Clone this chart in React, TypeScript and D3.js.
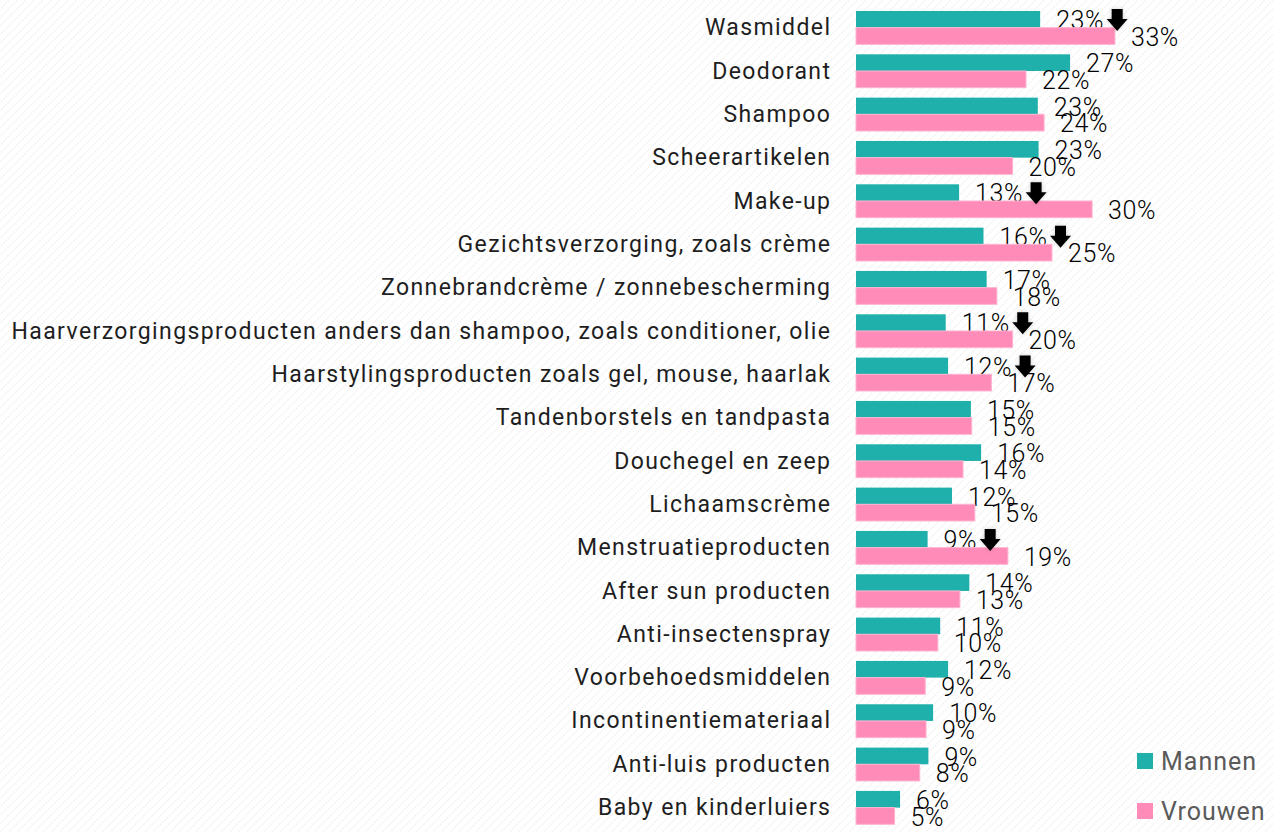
import React from "react";
import * as d3 from "d3";

const categories = [
  "Wasmiddel",
  "Deodorant",
  "Shampoo",
  "Scheerartikelen",
  "Make-up",
  "Gezichtsverzorging, zoals crème",
  "Zonnebrandcrème / zonnebescherming",
  "Haarverzorgingsproducten anders dan shampoo, zoals conditioner, olie",
  "Haarstylingsproducten zoals gel, mouse, haarlak",
  "Tandenborstels en tandpasta",
  "Douchegel en zeep",
  "Lichaamscrème",
  "Menstruatieproducten",
  "After sun producten",
  "Anti-insectenspray",
  "Voorbehoedsmiddelen",
  "Incontinentiemateriaal",
  "Anti-luis producten",
  "Baby en kinderluiers",
];
const mannen = [23.4, 27.2, 23.1, 23.2, 13.1, 16.2, 16.6, 11.4, 11.7, 14.6, 15.9, 12.2, 9.1, 14.4, 10.7, 11.7, 9.8, 9.2, 5.6];
const vrouwen = [32.9, 21.6, 23.9, 19.9, 30.0, 24.9, 17.9, 19.9, 17.2, 14.7, 13.6, 15.1, 19.3, 13.2, 10.4, 8.8, 8.9, 8.1, 4.9];
const arrowFlags = [1, 0, 0, 0, 1, 1, 0, 1, 1, 0, 0, 0, 1, 0, 0, 0, 0, 0, 0];
const seriesNames = ["Mannen", "Vrouwen"];
const seriesColors = ["#1fb0ab", "#ff8cb8"];

const W = 1273;
const H = 832;
const FONT = "Roboto, 'Open Sans', sans-serif";

let _ctx: CanvasRenderingContext2D | null = null;
function measure(text: string, font: string, spacing: number) {
  if (!_ctx) _ctx = document.createElement("canvas").getContext("2d");
  if (!_ctx) return text.length * 15;
  _ctx.font = font;
  return _ctx.measureText(text).width + spacing * text.length;
}

export default function App() {
  const x = d3.scaleLinear().domain([0, 100]).range([856, 856 + 787]);
  const y = d3
    .scaleBand<string>()
    .domain(categories)
    .range([6, 6 + 19 * 43.33])
    .paddingInner(0.23)
    .paddingOuter(0.115);
  const ySub = d3.scaleBand<string>().domain(seriesNames).range([0, y.bandwidth()]);
  const values = [mannen, vrouwen];
  const labelFont = "300 25px Roboto";

  return (
    <svg
      width={W}
      height={H}
      style={{ position: "absolute", left: 0, top: 0, display: "block" }}
      fontFamily={FONT}
    >
      <defs>
        <pattern id="hatch" width="6" height="6" patternUnits="userSpaceOnUse" patternTransform="rotate(45)">
          <rect width="6" height="6" fill="#ffffff" />
          <line x1="0" y1="0" x2="0" y2="6" stroke="#eeeeee" strokeWidth="2" strokeDasharray="2 1" />
        </pattern>
        <filter id="glow" x="-50%" y="-50%" width="200%" height="200%">
          <feDropShadow dx="0" dy="0" stdDeviation="2" floodColor="#000" floodOpacity="0.18" />
        </filter>
      </defs>
      <rect x={0} y={0} width={W} height={H} fill="url(#hatch)" />

      {categories.map((c, i) => {
        const y0 = y(c)!;
        const cy = y0 + y.bandwidth() / 2;
        const mLabel = `${Math.round(mannen[i])}%`;
        return (
          <g key={c}>
            <text
              x={831.4}
              y={cy - 0.5}
              dy="0.35em"
              textAnchor="end"
              fontSize={23}
              letterSpacing={1.4}
              fill="#1e1e1e"
            >
              {c}
            </text>
            {seriesNames.map((s, j) => {
              const v = values[j][i];
              const by = y0 + ySub(s)!;
              const bh = ySub.bandwidth();
              return (
                <g key={s}>
                  <rect
                    x={x(0)}
                    y={by}
                    width={x(v) - x(0)}
                    height={bh}
                    fill={seriesColors[j]}
                    stroke={j === 1 ? "#ffb3d0" : "none"}
                    strokeWidth={j === 1 ? 1 : 0}
                  />
                  <text
                    x={x(v) + 16}
                    y={by + bh / 2 + 1}
                    dy="0.35em"
                    fontSize={25}
                    fontWeight={300}
                    letterSpacing={0.6}
                    fill="#000"
                  >
                    {Math.round(v)}%
                  </text>
                </g>
              );
            })}
            {arrowFlags[i] ? (
              (() => {
                const lx = x(mannen[i]) + 16 + measure(mLabel, labelFont, 0.6) + 13;
                const top = y0 - 2;
                return (
                  <path
                    filter="url(#glow)"
                    transform={`translate(${lx},${top})`}
                    d="M-5.5,0 L5.5,0 L5.5,10 L10.5,10 L0,22 L-10.5,10 L-5.5,10 Z"
                    fill="#000"
                  />
                );
              })()
            ) : null}
          </g>
        );
      })}

      {seriesNames.map((s, j) => (
        <g key={s} transform={`translate(1137,${753 + j * 50})`}>
          <rect x={0} y={0} width={16} height={16} fill={seriesColors[j]} />
          <text x={24} y={8} dy="0.36em" fontSize={25} letterSpacing={1} fill="#5a5a5a">
            {s}
          </text>
        </g>
      ))}
    </svg>
  );
}
